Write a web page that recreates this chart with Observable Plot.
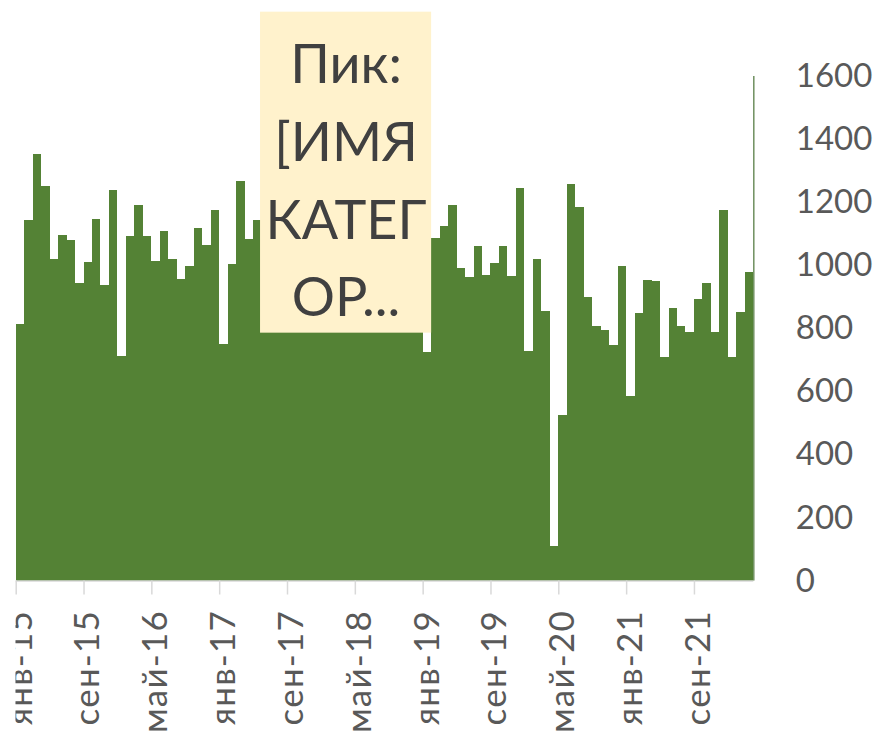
<!DOCTYPE html>
<html><head><meta charset="utf-8">
<script src="https://cdn.jsdelivr.net/npm/d3@7"></script>
<script src="https://cdn.jsdelivr.net/npm/@observablehq/plot@0.6"></script>
<style>
body{margin:0;background:#fff}
#chart{width:884px;height:737px}
g[aria-label="x-axis tick label"] text{letter-spacing:1.2px}
</style>
</head><body><div id="chart"></div>
<script>
// Monthly values, Jan 2015 .. Mar 2022 (indices 29-47 are hidden behind the label box; estimated)
const values = [
  815, 1142, 1353, 1251, 1019, 1096, 1080, 942, 1011, 1145, 937, 1239,
  712, 1091, 1192, 1091, 1013, 1107, 1021, 956, 999, 1119, 1064, 1176,
  749, 1004, 1267, 1082, 1142, 1100, 1150, 1050, 1180, 980, 1120, 1240,
  1060, 990, 1130, 1210, 1050, 1000, 1140, 1080, 1190, 1020, 1110, 1160,
  724, 1086, 1123, 1190, 991, 962, 1062, 968, 1008, 1062, 967, 1244,
  727, 1019, 855, 110, 524, 1256, 1183, 899, 807, 793, 746, 997,
  586, 847, 952, 949, 709, 864, 807, 789, 892, 944, 787, 1174,
  710, 852, 979
];
const tickMonths = [0, 8, 16, 24, 32, 40, 48, 56, 64, 72, 80];
const tickLabels = ["янв-15", "сен-15", "май-16", "янв-17", "сен-17", "май-18", "янв-19", "сен-19", "май-20", "янв-21", "сен-21"];
const yTicks = [0, 200, 400, 600, 800, 1000, 1200, 1400, 1600];
const peakSeries = [1600];
const peakLabel = "Пик:\n[ИМЯ\nКАТЕГ\nОР...";
const peakBox = {x1: 28.82, x2: 49, y1: 786, y2: 1804, tx: 38.91, ty: 1288};

const data = values.map((v, i) => ({i, v}));
const labelOf = new Map(tickMonths.map((t, k) => [t + 0.5, tickLabels[k]]));
const FONT = "Lato, 'Open Sans', sans-serif";

const chart = Plot.plot({
  width: 884, height: 737,
  marginLeft: 15.7, marginRight: 130.7, marginTop: 76, marginBottom: 156.5,
  x: {domain: [0, values.length]},
  y: {domain: [0, 1600]},
  style: {fontFamily: FONT, color: "#595959", background: "white", overflow: "visible"},
  marks: [
    Plot.rectY(data, {x1: "i", x2: d => d.i + 1, y: "v", fill: "#548235", shapeRendering: "crispEdges"}),
    Plot.ruleY([0], {stroke: "#d9d9d9", strokeWidth: 1.5}),
    Plot.ruleX(peakSeries, {x: () => values.length, y1: 0, y2: d => d, stroke: "#6f8f5f", strokeWidth: 1.5}),
    Plot.axisX(tickMonths, {tickSize: 14, tickFormat: () => "", stroke: "#d9d9d9", strokeWidth: 1.5}),
    Plot.axisX(tickMonths.map(t => t + 0.5), {tickSize: 0, tickPadding: 29, tickRotate: -90, fontSize: 35, fill: "#595959", tickFormat: d => labelOf.get(d)}),
    Plot.axisY(yTicks, {anchor: "right", tickSize: 0, tickPadding: 42, fontSize: 33, fill: "#595959", textAnchor: "start", tickFormat: d => String(d)}),
    Plot.rect([peakBox], {x1: "x1", x2: "x2", y1: "y1", y2: "y2", fill: "#FFF2CC"}),
    Plot.text([peakBox], {x: "tx", y: "ty", text: () => peakLabel, fontSize: 54, lineHeight: 1.44, fill: "#404040", textAnchor: "middle", lineAnchor: "middle"})
  ]
});

// clip category labels at the chart area's left edge, as in the reference
const ns = "http://www.w3.org/2000/svg";
const defs = document.createElementNS(ns, "defs");
const cp = document.createElementNS(ns, "clipPath");
cp.setAttribute("id", "xlabclip");
cp.setAttribute("clipPathUnits", "userSpaceOnUse");
const r = document.createElementNS(ns, "rect");
r.setAttribute("x", 15); r.setAttribute("y", 0);
r.setAttribute("width", 869); r.setAttribute("height", 737);
cp.append(r); defs.append(cp); chart.prepend(defs);
chart.querySelectorAll('g[aria-label="x-axis tick label"]').forEach(g => g.setAttribute("clip-path", "url(#xlabclip)"));

document.getElementById("chart").append(chart);
</script></body></html>
